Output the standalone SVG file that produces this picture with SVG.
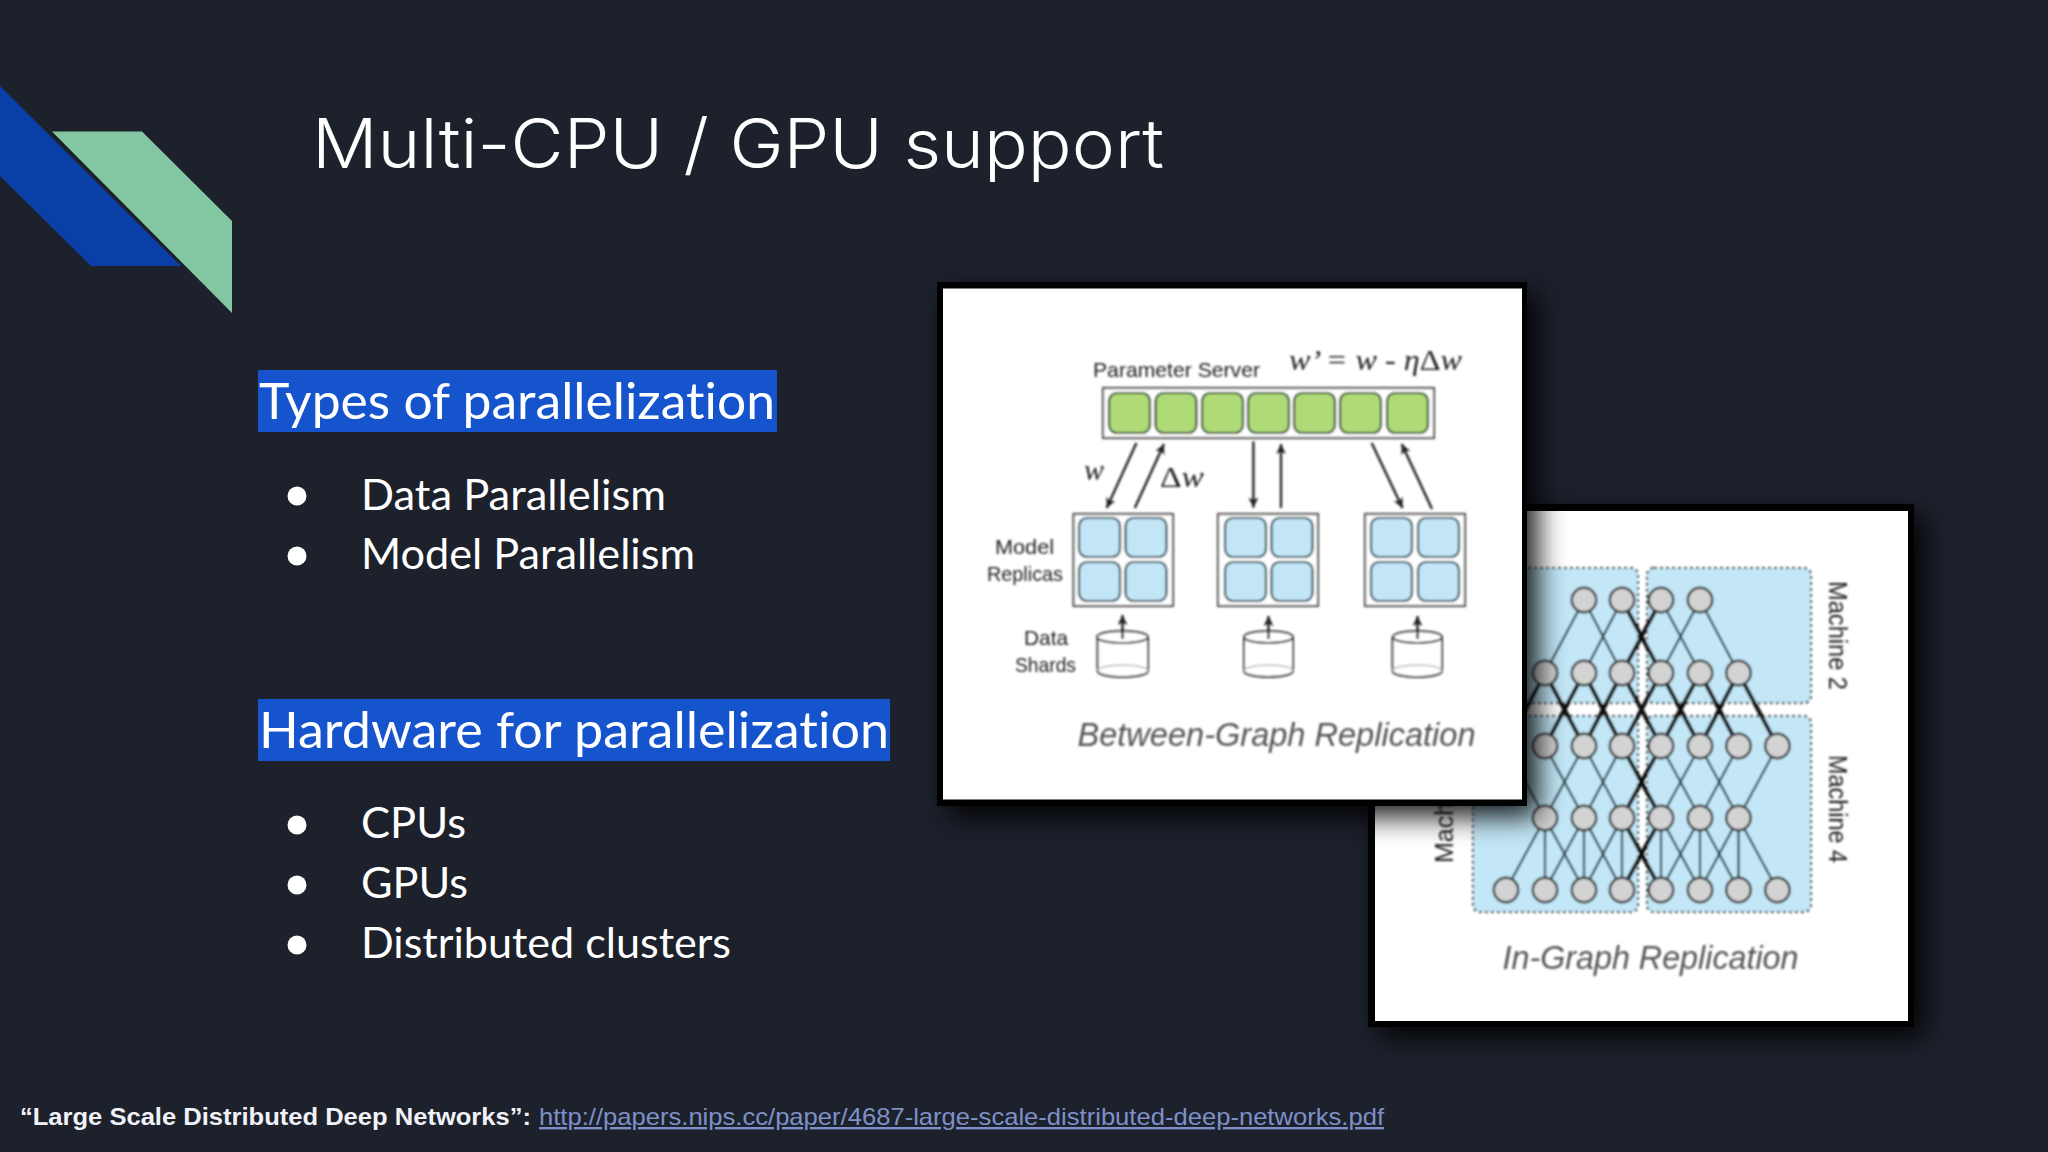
<svg xmlns="http://www.w3.org/2000/svg" width="2048" height="1152" viewBox="0 0 2048 1152">
<style>
text{font-variant-ligatures:none}
.head{font-family:"Lato","Liberation Sans",sans-serif;font-size:50px;fill:#fff}
.item{font-family:"Lato","Liberation Sans",sans-serif;font-size:42px;fill:#fff;font-weight:400}
.lbl{font-family:"Liberation Sans",sans-serif;font-size:21px;fill:#222}
.math{font-family:"Liberation Serif",serif;font-style:italic;font-size:30px;fill:#222}
.up{font-style:normal}
.cap{font-family:"Liberation Sans",sans-serif;font-style:italic;font-size:33px;fill:#555}
.mach{font-family:"Liberation Sans",sans-serif;font-size:25px;fill:#222}
.g{fill:#aeda78;stroke:#2d4a2c;stroke-width:2.200}
.b{fill:#c3e6f7;stroke:#274a55;stroke-width:2.200}
.box{fill:#fff;stroke:#555;stroke-width:2.200}
.zone{fill:#c3e7f7;stroke:#333;stroke-width:2;stroke-dasharray:3 3}
.cyl{fill:#fff;stroke:#333;stroke-width:2}
.nd{fill:#d3d3d3;stroke:#333;stroke-width:2.400}
.thin{fill:none;stroke:#1b3a44;stroke-width:2.200}
.thick{fill:none;stroke:#0c0c0c;stroke-width:4}
.arr{fill:none;stroke:#222;stroke-width:2.400;marker-end:url(#ah)}
</style>
<defs>
<marker id="ah" markerUnits="userSpaceOnUse" markerWidth="12" markerHeight="12" refX="10" refY="5" orient="auto"><path d="M0 0L10 5L0 10L2.500 5Z" fill="#222"/></marker>
<filter id="sh" x="-20%" y="-20%" width="145%" height="145%"><feDropShadow dx="11" dy="11" stdDeviation="14" flood-color="#000" flood-opacity=".9"/></filter>
<filter id="soft" x="-2%" y="-2%" width="104%" height="104%"><feGaussianBlur stdDeviation=".9"/></filter>
</defs>
<rect width="2048" height="1152" fill="#1d212c"/>
<g id="decor">
<path d="M0 86L181 266H91L0 176Z" fill="#0a3fa8"/>
<path d="M52 131.500H142L232 221V313Z" fill="#83c6a2"/>
</g>
<g id="title"><text x="312" y="168" font-family="Inter,'Open Sans',sans-serif" font-weight="300" font-size="68" fill="#fff" textLength="852" lengthAdjust="spacingAndGlyphs">Multi-CPU / GPU support</text></g>
<g id="types">
<rect x="258" y="370" width="519" height="62" fill="#1554cc"/>
<text class="head" x="259" y="419" textLength="516" lengthAdjust="spacingAndGlyphs">Types of parallelization</text>
<ellipse cx="297" cy="496" rx="9.500" ry="9.500" fill="#fff"/>
<text class="item" x="361" y="510" textLength="305" lengthAdjust="spacingAndGlyphs">Data Parallelism</text>
<ellipse cx="297" cy="556" rx="9.500" ry="9.500" fill="#fff"/>
<text class="item" x="361" y="569" textLength="334" lengthAdjust="spacingAndGlyphs">Model Parallelism</text>
</g>
<g id="hardware">
<rect x="258" y="699" width="632" height="62" fill="#1554cc"/>
<text class="head" x="259" y="748" textLength="630" lengthAdjust="spacingAndGlyphs">Hardware for parallelization</text>
<ellipse cx="297" cy="825" rx="9.500" ry="9.500" fill="#fff"/>
<text class="item" x="361" y="838" textLength="105" lengthAdjust="spacingAndGlyphs">CPUs</text>
<ellipse cx="297" cy="885" rx="9.500" ry="9.500" fill="#fff"/>
<text class="item" x="361" y="898" textLength="107" lengthAdjust="spacingAndGlyphs">GPUs</text>
<ellipse cx="297" cy="945" rx="9.500" ry="9.500" fill="#fff"/>
<text class="item" x="361" y="958" textLength="370" lengthAdjust="spacingAndGlyphs">Distributed clusters</text>
</g>
<g id="footer">
<text x="20" y="1125" font-family="'Liberation Sans',sans-serif" font-weight="700" font-size="24" fill="#f0f2f8" textLength="511" lengthAdjust="spacingAndGlyphs">“Large Scale Distributed Deep Networks”:</text>
<text x="539" y="1125" font-family="'Liberation Sans',sans-serif" font-size="24" fill="#7d90c8" text-decoration="underline" textLength="845" lengthAdjust="spacingAndGlyphs">http://papers.nips.cc/paper/4687-large-scale-distributed-deep-networks.pdf</text>
</g>
<g id="in-graph">
<rect x="1368" y="504" width="546" height="523" fill="#000" filter="url(#sh)"/>
<rect x="1375" y="511" width="533" height="510" fill="#fff"/>
<g filter="url(#soft)">
<rect id="machine-1" class="zone" x="1473" y="568" width="165" height="135" rx="7"/>
<rect id="machine-2" class="zone" x="1647" y="568" width="164" height="135" rx="7"/>
<rect id="machine-3" class="zone" x="1473" y="716" width="165" height="196" rx="7"/>
<rect id="machine-4" class="zone" x="1647" y="716" width="164" height="196" rx="7"/>
<g id="connectors">
<path class="thin" d="M1584 600L1545 673M1584 600L1622 673M1622 600L1584 673M1661 600L1700 673M1700 600L1661 673M1700 600L1738.500 673"/>
<path class="thick" d="M1622 600L1661 673M1661 600L1622 673"/>
<path class="thick" d="M1545 673L1506 746M1545 673L1584 746M1584 673L1545 746M1584 673L1622 746M1622 673L1584 746M1622 673L1661 746M1661 673L1622 746M1661 673L1700 746M1700 673L1661 746M1700 673L1738.500 746M1738.500 673L1700 746M1738.500 673L1777.400 746"/>
<path class="thin" d="M1506 746L1545 818M1584 746L1545 818M1545 746L1584 818M1622 746L1584 818M1584 746L1622 818M1700 746L1661 818M1661 746L1700 818M1738.500 746L1700 818M1700 746L1738.500 818M1777.400 746L1738.500 818"/>
<path class="thick" d="M1622 746L1661 818M1661 746L1622 818"/>
<path class="thin" d="M1545 818L1506 890M1545 818L1545 890M1545 818L1584 890M1584 818L1545 890M1584 818L1584 890M1584 818L1622 890M1622 818L1584 890M1622 818L1622 890M1661 818L1661 890M1661 818L1700 890M1700 818L1661 890M1700 818L1700 890M1700 818L1738.500 890M1738.500 818L1700 890M1738.500 818L1738.500 890M1738.500 818L1777.400 890"/>
<path class="thick" d="M1622 818L1661 890M1661 818L1622 890"/>
</g>
<g id="n02"><circle class="nd" cx="1584" cy="600" r="12.200"/></g>
<g id="n03"><circle class="nd" cx="1622" cy="600" r="12.200"/></g>
<g id="n04"><circle class="nd" cx="1661" cy="600" r="12.200"/></g>
<g id="n05"><circle class="nd" cx="1700" cy="600" r="12.200"/></g>
<g id="n11"><circle class="nd" cx="1545" cy="673" r="12.200"/></g>
<g id="n12"><circle class="nd" cx="1584" cy="673" r="12.200"/></g>
<g id="n13"><circle class="nd" cx="1622" cy="673" r="12.200"/></g>
<g id="n14"><circle class="nd" cx="1661" cy="673" r="12.200"/></g>
<g id="n15"><circle class="nd" cx="1700" cy="673" r="12.200"/></g>
<g id="n16"><circle class="nd" cx="1738.500" cy="673" r="12.200"/></g>
<g id="n21"><circle class="nd" cx="1545" cy="746" r="12.200"/></g>
<g id="n22"><circle class="nd" cx="1584" cy="746" r="12.200"/></g>
<g id="n23"><circle class="nd" cx="1622" cy="746" r="12.200"/></g>
<g id="n24"><circle class="nd" cx="1661" cy="746" r="12.200"/></g>
<g id="n25"><circle class="nd" cx="1700" cy="746" r="12.200"/></g>
<g id="n26"><circle class="nd" cx="1738.500" cy="746" r="12.200"/></g>
<g id="n27"><circle class="nd" cx="1777.400" cy="746" r="12.200"/></g>
<g id="n31"><circle class="nd" cx="1545" cy="818" r="12.200"/></g>
<g id="n32"><circle class="nd" cx="1584" cy="818" r="12.200"/></g>
<g id="n33"><circle class="nd" cx="1622" cy="818" r="12.200"/></g>
<g id="n34"><circle class="nd" cx="1661" cy="818" r="12.200"/></g>
<g id="n35"><circle class="nd" cx="1700" cy="818" r="12.200"/></g>
<g id="n36"><circle class="nd" cx="1738.500" cy="818" r="12.200"/></g>
<g id="n40"><circle class="nd" cx="1506" cy="890" r="12.200"/></g>
<g id="n41"><circle class="nd" cx="1545" cy="890" r="12.200"/></g>
<g id="n42"><circle class="nd" cx="1584" cy="890" r="12.200"/></g>
<g id="n43"><circle class="nd" cx="1622" cy="890" r="12.200"/></g>
<g id="n44"><circle class="nd" cx="1661" cy="890" r="12.200"/></g>
<g id="n45"><circle class="nd" cx="1700" cy="890" r="12.200"/></g>
<g id="n46"><circle class="nd" cx="1738.500" cy="890" r="12.200"/></g>
<g id="n47"><circle class="nd" cx="1777.400" cy="890" r="12.200"/></g>
<text class="mach" transform="translate(1829 581) rotate(90)" textLength="109" lengthAdjust="spacingAndGlyphs">Machine 2</text>
<text class="mach" transform="translate(1829 755) rotate(90)" textLength="108" lengthAdjust="spacingAndGlyphs">Machine 4</text>
<text class="mach" transform="translate(1453 863) rotate(-90)">Mach</text>
<text class="cap" x="1502.500" y="969" textLength="296" lengthAdjust="spacingAndGlyphs">In-Graph Replication</text>
</g>
</g>
<g id="between-graph">
<rect x="937" y="282" width="590" height="524" fill="#000" filter="url(#sh)"/>
<rect x="943" y="288.500" width="579" height="511" fill="#fff"/>
<g filter="url(#soft)">
<text class="lbl" x="1093" y="377" textLength="167" lengthAdjust="spacingAndGlyphs">Parameter Server</text>
<text class="math" x="1289" y="370" textLength="173" lengthAdjust="spacingAndGlyphs">w’ = w - η<tspan class="up">Δ</tspan>w</text>
<g id="parameter-server">
<rect x="1103" y="388" width="331" height="50" fill="#fff" stroke="#555" stroke-width="2.200"/>
<rect class="g" x="1109" y="393" width="41" height="40" rx="8"/>
<rect class="g" x="1155.500" y="393" width="41" height="40" rx="8"/>
<rect class="g" x="1202" y="393" width="41" height="40" rx="8"/>
<rect class="g" x="1248" y="393" width="41" height="40" rx="8"/>
<rect class="g" x="1294" y="393" width="41" height="40" rx="8"/>
<rect class="g" x="1340" y="393" width="41" height="40" rx="8"/>
<rect class="g" x="1387" y="393" width="41" height="40" rx="8"/>
</g>
<g id="arrows">
<path class="arr" d="M1136.400 443L1106.700 508"/>
<path class="arr" d="M1134.800 508L1164 444"/>
<path class="arr" d="M1253.400 441.500V507.600"/>
<path class="arr" d="M1281 508V444"/>
<path class="arr" d="M1371.700 443L1402.500 508"/>
<path class="arr" d="M1432 509L1401.700 444"/>
</g>
<text class="math" x="1084" y="480">w</text>
<text class="math" x="1160" y="487" textLength="44" lengthAdjust="spacingAndGlyphs"><tspan class="up">Δ</tspan>w</text>
<g id="replica-1">
<rect class="box" x="1073.500" y="514" width="99.500" height="92"/>
<rect class="b" x="1079" y="518" width="41" height="39" rx="8"/><rect class="b" x="1125.500" y="518" width="41" height="39" rx="8"/><rect class="b" x="1079" y="562" width="41" height="39" rx="8"/><rect class="b" x="1125.500" y="562" width="41" height="39" rx="8"/>
</g>
<g id="replica-2">
<rect class="box" x="1218" y="514" width="100" height="92"/>
<rect class="b" x="1225" y="518" width="41" height="39" rx="8"/><rect class="b" x="1271.500" y="518" width="41" height="39" rx="8"/><rect class="b" x="1225" y="562" width="41" height="39" rx="8"/><rect class="b" x="1271.500" y="562" width="41" height="39" rx="8"/>
</g>
<g id="replica-3">
<rect class="box" x="1365" y="514" width="100" height="92"/>
<rect class="b" x="1371" y="518" width="41" height="39" rx="8"/><rect class="b" x="1418" y="518" width="41" height="39" rx="8"/><rect class="b" x="1371" y="562" width="41" height="39" rx="8"/><rect class="b" x="1418" y="562" width="41" height="39" rx="8"/>
</g>
<text class="lbl" x="995" y="554" textLength="59" lengthAdjust="spacingAndGlyphs">Model</text>
<text class="lbl" x="987" y="581" textLength="76" lengthAdjust="spacingAndGlyphs">Replicas</text>
<text class="lbl" x="1024" y="645" textLength="44" lengthAdjust="spacingAndGlyphs">Data</text>
<text class="lbl" x="1015" y="672" textLength="61" lengthAdjust="spacingAndGlyphs">Shards</text>
<g id="shard-1"><path class="cyl" d="M1097.500 637V671A25 6 0 0 0 1148 671V637"/><ellipse class="cyl" cx="1122.500" cy="637" rx="25.500" ry="6"/><path d="M1097.500 671A25 6 0 0 1 1148 671" fill="none" stroke="#bbb" stroke-width="1.500"/><path class="arr" d="M1122.500 639V615"/></g>
<g id="shard-2"><path class="cyl" d="M1244 637V671A24.500 6 0 0 0 1293 671V637"/><ellipse class="cyl" cx="1268.500" cy="637" rx="24.500" ry="6"/><path d="M1244 671A24.500 6 0 0 1 1293 671" fill="none" stroke="#bbb" stroke-width="1.500"/><path class="arr" d="M1268.500 639V616"/></g>
<g id="shard-3"><path class="cyl" d="M1392.500 637V671A24.500 6 0 0 0 1442 671V637"/><ellipse class="cyl" cx="1417.500" cy="637" rx="24.500" ry="6"/><path d="M1392.500 671A24.500 6 0 0 1 1442 671" fill="none" stroke="#bbb" stroke-width="1.500"/><path class="arr" d="M1417.500 639V616"/></g>
<text class="cap" x="1077.500" y="746" textLength="398" lengthAdjust="spacingAndGlyphs">Between-Graph Replication</text>
</g>
</g>
</svg>
